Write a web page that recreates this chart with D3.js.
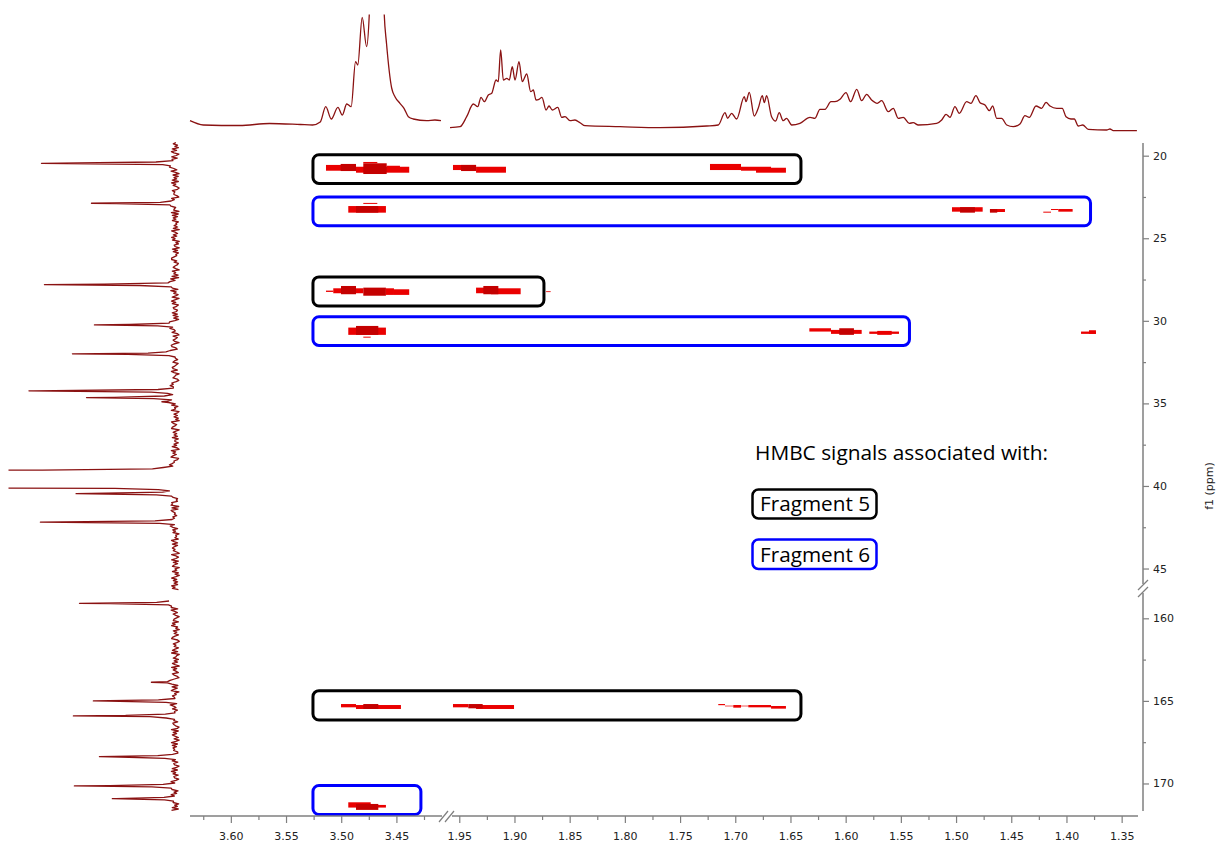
<!DOCTYPE html>
<html>
<head>
<meta charset="utf-8">
<script src="https://cdn.jsdelivr.net/npm/d3@7"></script>
<style>
  body { margin: 0; background: #fff; }
  svg { display: block; }
</style>
</head>
<body>
<svg id="chart" width="1217" height="843"></svg>
<script>
// ---------- 1H projection (f2) ----------
// segment A: 3.64 – 3.41 ppm
const protonPpmA = [3.637,3.625,3.592,3.565,3.537,3.526,3.519,3.514,3.509,3.503,3.499,3.495,3.491,3.487,3.485,3.481,3.477,3.4746,3.4722,3.4668,3.4632,3.461,3.459,3.4543,3.4513,3.4468,3.4431,3.4392,3.4347,3.4226,3.4151,3.4096];
const protonIntA = [10.3,6,5.5,7.5,6.5,6,9,24.3,12,23.7,16,27,24.3,69.3,66,113.7,84.3,116,200,300,200,116,88,43,34.3,27.7,22.7,14.3,12,10.3,11,10.3];
// segment B: 1.96 – 1.34 ppm
const protonPpmB = [1.9584,1.9493,1.9433,1.9373,1.9333,1.9303,1.9273,1.9237,1.9206,1.9167,1.9147,1.9125,1.9101,1.9070,1.9047,1.9020,1.8995,1.8959,1.8929,1.8889,1.8853,1.8829,1.8805,1.8778,1.8751,1.8714,1.8687,1.8657,1.8608,1.8572,1.8542,1.8497,1.8452,1.8406,1.8361,1.8044,1.7682,1.7259,1.7154,1.7093,1.7069,1.7033,1.6988,1.6918,1.6903,1.6873,1.6828,1.6792,1.6755,1.6737,1.6716,1.6671,1.6634,1.6602,1.6566,1.6535,1.6489,1.6414,1.6323,1.6278,1.6233,1.6187,1.6133,1.6097,1.6051,1.5997,1.5955,1.5900,1.5855,1.5810,1.5765,1.5714,1.5674,1.5614,1.5569,1.5524,1.5478,1.5424,1.5388,1.5342,1.5176,1.5130,1.5091,1.5055,1.5010,1.4971,1.4904,1.4865,1.4820,1.4783,1.4738,1.4699,1.4668,1.4632,1.4587,1.4541,1.4482,1.4421,1.4376,1.4337,1.4276,1.4225,1.4185,1.4149,1.4088,1.4038,1.4004,1.3959,1.3929,1.3893,1.3853,1.3802,1.3636,1.3606,1.3576,1.3362];
const protonIntB = [3.3,4.3,14.3,27,24.3,33.7,29.3,36,37.7,51,49.3,81,51,52.7,51,64.3,51,69.3,49.3,57,39.3,41,31,31.7,33.7,21,25,21,23.7,13.7,14.3,10.3,11,8.3,5.3,4.3,3.3,5,6,18.3,12.7,17.7,12,34.3,29.3,38.7,15,22.7,35.3,28.3,35.3,14.3,10,18.3,10.3,12.7,6,7.7,13.7,12.7,21.7,21.7,29.3,29.3,31.7,38.3,29.3,41.7,30.3,36.7,31,27.7,30.3,19.3,22.7,12.7,13.7,7.7,8.3,6,7.7,11,16.7,13.7,24.3,17.7,29.3,27.7,35.3,28.3,26,20.3,25,12.7,12.7,6,4.3,7,15.3,13.7,25,22.7,28.7,25,22.7,22.7,14.3,12,12,5,6,1.7,1,2,0.3,0.3];

// ---------- 13C projection (f1) ----------
const carbonShift  = [20.46,22.88,27.81,30.25,32.0,34.24,34.65,34.9,40.47,42.19,159.09,163.87,165.0,165.91,168.38,170.15,170.92];
const carbonHeight = [134,84,131,81,103,146,88,12,97,135,96,24,82,102,76,101,63];
const solventBand  = [39.09, 40.06];   // off-scale DMSO-d6 multiplet
const carbonNoise  = "4725183960381627405952940716381947302856620845193735609182748143627095273958041650827143699361257408" +
                     "4618093725725093614805948137623827160495613954820724750698318906423157135872960457203869414096271835" +
                     "7381549026261409735890473628155163820947379015468284256170391276938504653402187908197452633952086174" +
                     "7043519628268573094149172680538150493726" +
                     "2958174036819527403671859240736158920374615829034716285093741862059347182690537418260953714286093517" +
                     "6402917385160492837561048392716503829471650382917460528391746052819374605281937460158293740615829374";

// ---------- HMBC cross peaks: [f2 from, f2 to, f1 from, f1 to, contour level] ----------
const hmbc20 = [
  [3.5138,3.4866,20.56,20.91,1],[3.4866,3.4384,20.67,21.03,1],[3.5005,3.4866,20.50,20.93,2],
  [3.4800,3.4588,20.46,21.11,2],[3.4588,3.4468,20.61,20.97,1],[3.4800,3.4673,20.38,20.46,1],
  [1.9557,1.9348,20.56,20.87,1],[1.9484,1.9348,20.56,20.93,2],[1.9348,1.9077,20.67,21.03,1],
  [1.7229,1.6948,20.50,20.87,1],[1.6948,1.6676,20.67,20.91,1],[1.6812,1.6541,20.73,21.03,1]
];
const hmbc23 = [
  [3.4936,3.4595,23.05,23.45,1],[3.4866,3.4664,23.05,23.45,2],[3.4800,3.4673,22.86,22.92,1],
  [1.5037,1.4759,23.12,23.39,1],[1.4964,1.4829,23.12,23.45,2],[1.4693,1.4557,23.23,23.41,1],
  [1.4693,1.4627,23.23,23.45,2],[1.4210,1.4140,23.39,23.45,1],[1.4140,1.4074,23.23,23.29,1],
  [1.4074,1.3944,23.23,23.39,1]
];
const hmbc28 = [
  [3.5138,3.5072,28.17,28.25,1],[3.5072,3.5002,28.03,28.33,1],[3.5002,3.4866,27.89,28.39,2],
  [3.4866,3.4800,28.03,28.33,1],[3.4800,3.4595,27.99,28.48,2],[3.4595,3.4522,28.03,28.43,1],
  [3.4522,3.4384,28.09,28.43,1],
  [1.9348,1.9213,27.99,28.33,1],[1.9282,1.9146,27.89,28.39,2],[1.9213,1.8944,28.03,28.39,1],
  [1.8714,1.8672,28.21,28.26,1]
];
const hmbc30 = [
  [3.4936,3.4595,30.41,30.85,1],[3.4866,3.4664,30.31,30.85,2],[3.4800,3.4733,30.96,31.02,1],
  [1.6329,1.6133,30.45,30.65,1],[1.6133,1.5855,30.55,30.79,1],[1.6058,1.5925,30.45,30.85,2],
  [1.5786,1.5517,30.65,30.79,1],[1.5714,1.5583,30.61,30.85,1],
  [1.3868,1.3733,30.65,30.79,1],[1.3796,1.3733,30.57,30.79,1]
];
const hmbc165 = [
  [3.5002,3.4866,165.19,165.39,1],[3.4866,3.4459,165.25,165.49,1],[3.4800,3.4664,165.19,165.49,2],
  [1.9557,1.9418,165.19,165.39,1],[1.9418,1.9288,165.19,165.45,2],[1.9348,1.9004,165.25,165.49,1],
  [1.7154,1.7093,165.19,165.26,1],[1.7093,1.7018,165.29,165.33,1],[1.7018,1.6948,165.25,165.41,1],
  [1.6948,1.6882,165.29,165.33,1],[1.6882,1.6676,165.25,165.39,1],[1.6676,1.6541,165.31,165.47,1]
];
const hmbc171 = [
  [3.4936,3.4733,171.14,171.46,1],[3.4866,3.4664,171.24,171.60,2],[3.4733,3.4595,171.30,171.46,1]
];

// ---------- fragment groupings: [f2 from, f2 to, f1 from, f1 to] ----------
const fragment5Boxes = [[3.5256,1.6405,19.94,21.68],[3.5256,1.8733,27.34,29.10],[3.5256,1.6405,164.38,166.16]];
const fragment6Boxes = [[3.5256,1.3782,22.50,24.24],[3.5256,1.5422,29.75,31.49],[3.5256,3.4278,170.12,171.88]];

// ---------- axis ticks ----------
const xTicksA = [3.60,3.55,3.50,3.45];
const xMinorA = [3.625,3.575,3.525,3.475,3.425];
const xTicksB = [1.95,1.90,1.85,1.80,1.75,1.70,1.65,1.60,1.55,1.50,1.45,1.40,1.35];
const xMinorB = [1.925,1.875,1.825,1.775,1.725,1.675,1.625,1.575,1.525,1.475,1.425,1.375];
const yTicksA = [20,25,30,35,40,45];
const yMinorA = [22.5,27.5,32.5,37.5,42.5];
const yTicksB = [160,165,170];
const yMinorB = [162.5,167.5];

const legendTitle = "HMBC signals associated with:";
const legendItems = ["Fragment 5", "Fragment 6"];

// ---------- colours ----------
const traceColor = "#8a1212";
const peakColor = {1: "#ea0000", 2: "#c40000"};
const frag5Color = "#000000";
const frag6Color = "#0000ff";
const axisColor = "#7f7f7f";
const labelColor = "#222222";

// ---------- scales (broken axes) ----------
const xA = d3.scaleLinear().domain([3.637, 3.4096]).range([190, 441]);
const xB = d3.scaleLinear().domain([1.9584, 1.3352]).range([450, 1138]);
const xOf = p => (p > 2.5 ? xA(p) : xB(p));
const yA = d3.scaleLinear().domain([19.25, 46.3]).range([143.3, 590]);
const yB = d3.scaleLinear().domain([158.8, 171.97]).range([598.5, 816]);
const yOf = c => (c < 100 ? yA(c) : yB(c));
const topY = d3.scaleLinear().domain([0, 116]).range([131, 15]);
const sideX = d3.scaleLinear().domain([0, 170]).range([175.5, 5.5]);

const svg = d3.select("#chart");
svg.append("rect").attr("width", 1217).attr("height", 843).attr("fill", "#fff");

const defs = svg.append("defs");
defs.append("clipPath").attr("id", "clipTop")
  .append("rect").attr("x", 180).attr("y", 14.5).attr("width", 980).attr("height", 130);
defs.append("clipPath").attr("id", "clipSide")
  .append("rect").attr("x", 8.5).attr("y", 138).attr("width", 180).attr("height", 690);

// ---------- 1H projection ----------
const topLineA = d3.line().x(d => xA(d[0])).y(d => topY(d[1])).curve(d3.curveMonotoneX);
const topLineB = d3.line().x(d => xB(d[0])).y(d => topY(d[1])).curve(d3.curveMonotoneX);
const gTop = svg.append("g").attr("clip-path", "url(#clipTop)");
gTop.append("path").datum(d3.zip(protonPpmA, protonIntA))
  .attr("d", topLineA).attr("fill", "none").attr("stroke", traceColor).attr("stroke-width", 1.3);
gTop.append("path").datum(d3.zip(protonPpmB, protonIntB))
  .attr("d", topLineB).attr("fill", "none").attr("stroke", traceColor).attr("stroke-width", 1.3);

// ---------- 13C projection ----------
const peakW = 0.03, solventW = 0.02;
function carbonIntensity(ppm) {
  let v = 0;
  carbonShift.forEach((c, i) => {
    const t = (ppm - c) / peakW;
    v += carbonHeight[i] / (1 + t * t);
  });
  let d = 0;
  if (ppm < solventBand[0]) d = solventBand[0] - ppm;
  else if (ppm > solventBand[1]) d = ppm - solventBand[1];
  const s = d / solventW;
  v += 1000 / (1 + s * s);
  return v;
}
let noiseIdx = 0;
function sideSegment(scale, y0, y1) {
  const pts = [];
  for (let y = y0; y <= y1; y += 1.3) {
    const dgt = +carbonNoise[noiseIdx % carbonNoise.length];
    noiseIdx++;
    pts.push([y, carbonIntensity(scale.invert(y)) + (dgt - 4.5) * 0.85]);
  }
  const extras = carbonShift.concat(solventBand);
  extras.forEach(c => {
    const y = scale(c);
    if (y > y0 && y < y1) pts.push([y, carbonIntensity(c)]);
  });
  pts.sort((a, b) => a[0] - b[0]);
  return pts;
}
const sideLine = d3.line().x(d => sideX(d[1])).y(d => d[0]);
const gSide = svg.append("g").attr("clip-path", "url(#clipSide)");
[[yA, 142.5, 591], [yB, 601, 811.5]].forEach(([sc, a, b]) => {
  gSide.append("path").datum(sideSegment(sc, a, b))
    .attr("d", sideLine).attr("fill", "none").attr("stroke", traceColor)
    .attr("stroke-width", 1.3).attr("stroke-linejoin", "round");
});

// ---------- HMBC cross peaks ----------
const allPeaks = [].concat(hmbc20, hmbc23, hmbc28, hmbc30, hmbc165, hmbc171)
  .sort((a, b) => a[4] - b[4]);
svg.append("g").selectAll("rect").data(allPeaks).join("rect")
  .attr("x", d => xOf(d[0]))
  .attr("y", d => yOf(d[2]))
  .attr("width", d => xOf(d[1]) - xOf(d[0]))
  .attr("height", d => yOf(d[3]) - yOf(d[2]))
  .attr("fill", d => peakColor[d[4]]);

// ---------- fragment boxes ----------
function drawBoxes(boxes, color) {
  svg.append("g").selectAll("rect").data(boxes).join("rect")
    .attr("x", d => xOf(d[0]))
    .attr("y", d => yOf(d[2]))
    .attr("width", d => xOf(d[1]) - xOf(d[0]))
    .attr("height", d => yOf(d[3]) - yOf(d[2]))
    .attr("rx", 6).attr("ry", 6)
    .attr("fill", "none").attr("stroke", color).attr("stroke-width", 3);
}
drawBoxes(fragment5Boxes, frag5Color);
drawBoxes(fragment6Boxes, frag6Color);

// ---------- axes ----------
const tickFont = "'DejaVu Sans', sans-serif";
function styleAxis(g) {
  g.select(".domain").remove();
  g.attr("color", axisColor);
  g.selectAll(".tick line").attr("stroke-width", 1.2);
  g.selectAll(".tick text").attr("fill", labelColor)
    .style("font-family", tickFont).style("font-size", "11px");
}
const gx = svg.append("g").attr("transform", "translate(0,816)");
[[xA, xTicksA, xMinorA], [xB, xTicksB, xMinorB]].forEach(([sc, major, minor]) => {
  gx.append("g").call(d3.axisBottom(sc).tickValues(minor).tickSize(4).tickFormat("")).call(styleAxis);
  gx.append("g").call(d3.axisBottom(sc).tickValues(major).tickSize(7).tickPadding(9)
    .tickFormat(d3.format(".2f"))).call(styleAxis);
});
gx.append("line").attr("x1", 190).attr("x2", 442).attr("stroke", axisColor).attr("stroke-width", 1.5);
gx.append("line").attr("x1", 452).attr("x2", 1138).attr("stroke", axisColor).attr("stroke-width", 1.5);
[[439, 448], [445, 454]].forEach(([a, b]) => {
  gx.append("line").attr("x1", a).attr("y1", 6).attr("x2", b).attr("y2", -5)
    .attr("stroke", axisColor).attr("stroke-width", 1.2);
});

const gy = svg.append("g").attr("transform", "translate(1143,0)");
[[yA, yTicksA, yMinorA], [yB, yTicksB, yMinorB]].forEach(([sc, major, minor]) => {
  gy.append("g").call(d3.axisRight(sc).tickValues(minor).tickSize(3).tickFormat("")).call(styleAxis);
  gy.append("g").call(d3.axisRight(sc).tickValues(major).tickSize(6).tickPadding(4)).call(styleAxis);
});
gy.append("line").attr("y1", 143).attr("y2", 584).attr("stroke", axisColor).attr("stroke-width", 1.5);
gy.append("line").attr("y1", 593).attr("y2", 811).attr("stroke", axisColor).attr("stroke-width", 1.5);
[[580, 590], [587, 597]].forEach(([a, b]) => {
  gy.append("line").attr("x1", -5).attr("y1", b).attr("x2", 5).attr("y2", a)
    .attr("stroke", axisColor).attr("stroke-width", 1.2);
});

svg.append("text")
  .attr("transform", "translate(1213,486) rotate(-90)")
  .attr("text-anchor", "middle")
  .attr("fill", labelColor)
  .style("font-family", tickFont).style("font-size", "11px")
  .text("f1 (ppm)");

// ---------- legend ----------
const legendFont = "'Open Sans', 'Noto Sans', sans-serif";
function fitText(sel, width) {
  const w = sel.node().getComputedTextLength();
  const fs = parseFloat(sel.style("font-size"));
  sel.style("font-size", (fs * width / w).toFixed(2) + "px");
}
const title = svg.append("text").attr("x", 755).attr("y", 460)
  .attr("fill", "#000").style("font-family", legendFont).style("font-size", "20px")
  .text(legendTitle);
fitText(title, 293);

const legendColors = [frag5Color, frag6Color];
const legendRows = [[489.5, 518.5, 511], [539.5, 569, 562]];
legendItems.forEach((label, i) => {
  const [top, bottom, base] = legendRows[i];
  svg.append("rect").attr("x", 752.5).attr("y", top).attr("width", 124).attr("height", bottom - top)
    .attr("rx", 6).attr("ry", 6).attr("fill", "none")
    .attr("stroke", legendColors[i]).attr("stroke-width", 2.5);
  const t = svg.append("text").attr("x", 760).attr("y", base)
    .attr("fill", "#000").style("font-family", legendFont).style("font-size", "20px")
    .text(label);
  fitText(t, 110);
});
</script>
</body>
</html>
